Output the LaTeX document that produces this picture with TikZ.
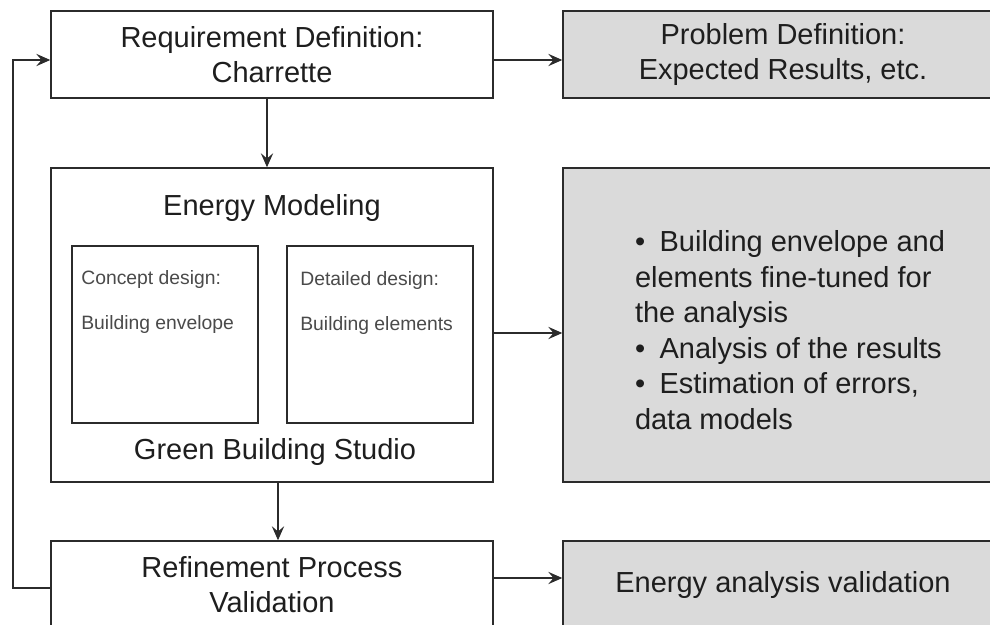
\documentclass[tikz,border=0pt]{standalone}
\usepackage{fontspec}
\setmainfont{Liberation Sans}
\usetikzlibrary{arrows.meta}
\usetikzlibrary{positioning}
\definecolor{emink}{HTML}{1E1E1E}
\definecolor{emline}{HTML}{2B2B2B}
\definecolor{emgray}{HTML}{DADADA}
\definecolor{emsoft}{HTML}{4A4A4A}
\tikzset{
  embox/.style={
    draw=emline, fill=white, line width=0.8pt, minimum width=8.84cm,
    inner sep=0pt, align=center, text=emink,
    font=\fontsize{16.5}{20}\selectfont},
  emgraybox/.style={embox, fill=emgray, minimum width=8.8cm},
  eminner/.style={
    draw=emline, line width=0.8pt, minimum width=3.72cm,
    minimum height=3.54cm, inner sep=0pt},
  emsmall/.style={
    anchor=west, align=left, inner sep=0pt, text=emsoft,
    font=\fontsize{11}{26}\selectfont},
  emlabel/.style={text=emink, font=\fontsize{16.5}{20}\selectfont},
  emarrow/.style={
    -{Stealth[length=8pt, width=7pt, inset=3pt]}, draw=emline,
    line width=0.7pt},
}

\begin{document}
\begin{tikzpicture}[x=1cm, y=1cm]
\useasboundingbox (0, 0) rectangle (19.8, -12.5);
\clip (0, 0) rectangle (19.8, -12.5);

% Requirement row.
\node[embox, minimum height=1.74cm] (req) at (5.44, -1.09)
  {Requirement Definition:\\Charrette};
\node[emgraybox, minimum height=1.74cm] (prob) at (15.66, -1.09)
  {Problem Definition:\\Expected Results, etc.};

% Energy modeling block with the two design stages.
\node[embox, minimum height=6.28cm] (model) at (5.44, -6.5) {};
\node[emlabel] (modeltitle) at (5.44, -4.16) {Energy Modeling};
\node[emlabel] (studio) at (5.5, -9.04) {Green Building Studio};
\node[eminner] (concept) at (3.30, -6.69) {};
\node[emsmall] (concepttxt) at (1.62, -6.04)
  {Concept design:\\Building envelope};
\node[eminner] (detail) at (7.60, -6.69) {};
\node[emsmall] (detailtxt) at (6.0, -6.06)
  {Detailed design:\\Building elements};
\node[emgraybox, minimum height=6.28cm] (notes) at (15.66, -6.5) {};
\node[align=left, text=emink, font=\fontsize{16.5}{20.2}\selectfont]
  (notestxt) at (15.8, -6.6)
  {\textbullet\enspace Building envelope and\\
   elements fine-tuned for\\
   the analysis\\
   \textbullet\enspace Analysis of the results\\
   \textbullet\enspace Estimation of errors,\\
   data models};

% Refinement row.
\node[embox, minimum height=1.76cm] (refine) at (5.44, -11.70)
  {Refinement Process\\Validation};
\node[emgraybox, minimum height=1.76cm] (valid) at (15.66, -11.70)
  {Energy analysis validation};

% Connectors.
\coordinate (downA) at (5.34, 0);
\coordinate (downB) at (5.56, 0);
\coordinate (rowA) at (0, -1.2);
\coordinate (rowB) at (0, -6.66);
\coordinate (rowC) at (0, -11.56);
\draw[emarrow] (downA |- req.south) -- (downA |- model.north);
\draw[emarrow] (downB |- model.south) -- (downB |- refine.north);
\draw[emarrow] (rowA -| req.east) -- (rowA -| prob.west);
\draw[emarrow] (rowB -| model.east) -- (rowB -| notes.west);
\draw[emarrow] (rowC -| refine.east) -- (rowC -| valid.west);

% Feedback loop back to the charrette.
\coordinate (loopbot) at (0.26, -11.76);
\coordinate (looptop) at (0.26, -1.2);
\draw[emarrow] (loopbot -| refine.west) -- (loopbot) -- (looptop)
  -- (looptop -| req.west);

\end{tikzpicture}
\end{document}
